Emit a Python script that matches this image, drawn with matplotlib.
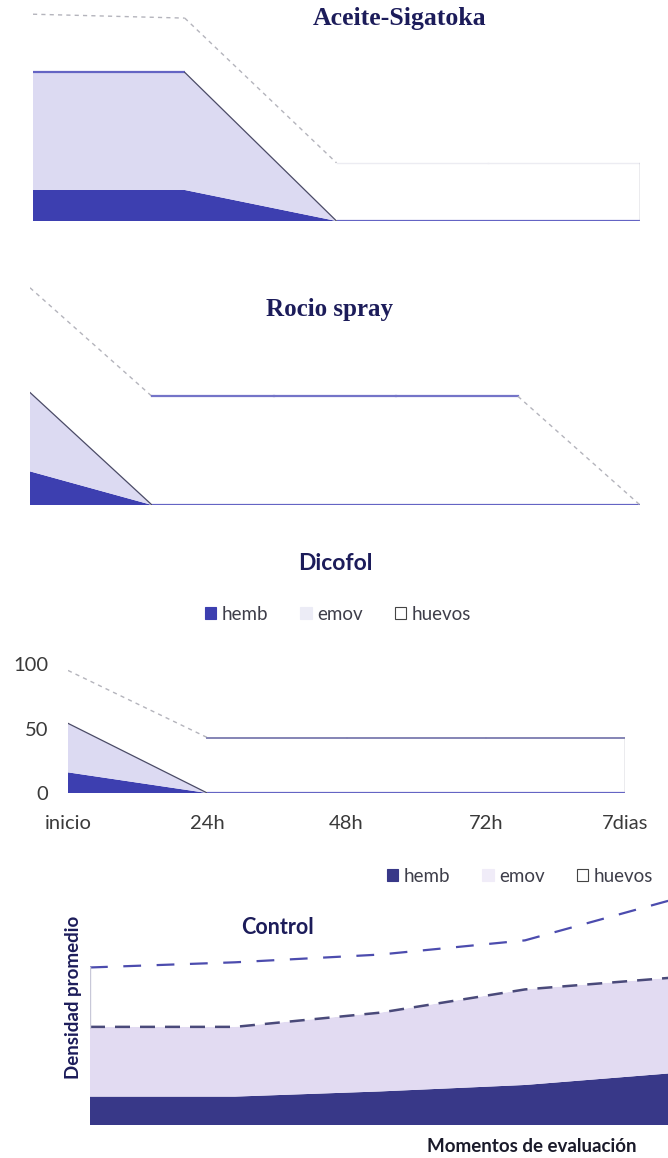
import matplotlib.pyplot as plt
from matplotlib.patches import Patch
import numpy as np

# densidad promedio por momento de evaluación
momentos = ["inicio", "24h", "48h", "72h", "7dias"]
momentos_rocio = ["inicio", "24h", "48h", "72h", "96h", "7dias"]

aceite_hemb = [24, 24, 0, 0, 0]
aceite_emov = [91, 91, 0, 0, 0]
aceite_huevos = [45, 42, 45, 45, 45]

rocio_hemb = [26, 0, 0, 0, 0, 0]
rocio_emov = [61, 0, 0, 0, 0, 0]
rocio_huevos = [81, 84, 84, 84, 84, 0]

dicofol_hemb = [16, 0, 0, 0, 0]
dicofol_emov = [38, 0, 0, 0, 0]
dicofol_huevos = [41, 43, 43, 43, 43]

control_hemb = [22, 22, 26, 31, 40]
control_emov = [54, 54, 61, 74, 74]
control_huevos = [46, 50, 45, 38, 60]

series = ["hemb", "emov", "huevos"]

AZUL = "#3d3fb0"
LILA = "#dcdaf2"
NAVY = "#1c1c5a"

W, H = 668, 1158
fig = plt.figure(figsize=(W / 100, H / 100), dpi=100)


def caja(x0, x1, ytop, ybase):
    return [x0 / W, 1 - ybase / H, (x1 - x0) / W, (ybase - ytop) / H]


def contorno(ax, x, y, plano, baja):
    # tramos planos en azul, tramos que cambian con otro trazo
    for i in range(len(x) - 1):
        estilo = plano if y[i] == y[i + 1] else baja
        if estilo:
            ax.plot(x[i:i + 2], y[i:i + 2], **estilo)


def panel(ax, hemb, emov, huevos, ymax, tope_plano, colores=(AZUL, LILA)):
    x = np.arange(len(hemb))
    ax.stackplot(x, hemb, emov, huevos, colors=[colores[0], colores[1], "white"],
                 linewidth=0)
    t_emov = np.array(hemb) + np.array(emov)
    t_huevos = t_emov + np.array(huevos)
    contorno(ax, x, t_emov,
             dict(color="#6464c4", lw=1.6, solid_capstyle="butt"),
             dict(color="#4a4a66", lw=0.9))
    contorno(ax, x, t_huevos, tope_plano,
             dict(color="#b4b4bc", lw=1.0, ls=(0, (3, 3))))
    if t_huevos[-1] > 0:
        ax.plot([x[-1], x[-1]], [0, t_huevos[-1]], color="#9a9aaa", lw=1.0)
    ax.set_xlim(0, len(x) - 1)
    ax.set_ylim(0, ymax)
    return x


def leyenda(cx, cy, colores):
    handles = [Patch(facecolor=c, edgecolor=e, lw=0.8)
               for c, e in zip(colores, [colores[0], colores[1], "#444444"])]
    fig.legend(handles, series, loc="center", bbox_to_anchor=(cx / W, 1 - cy / H),
               ncol=3, frameon=False, prop=dict(family="Lato", size=13.5),
               handlelength=0.6, handleheight=0.6, handletextpad=0.3,
               columnspacing=1.7, labelcolor="#3e3e4a")


# Aceite-Sigatoka
ax1 = fig.add_axes(caja(33, 640, 0, 221))
panel(ax1, aceite_hemb, aceite_emov, aceite_huevos, 171,
      dict(color="#ececf2", lw=1.0))
ax1.axis("off")
fig.text(400 / W, 1 - 18 / H, "Aceite-Sigatoka", ha="center", va="center",
         family="Liberation Serif", weight="bold", size=18.5, color=NAVY)

# Rocio spray
ax2 = fig.add_axes(caja(30, 640, 280, 505))
panel(ax2, rocio_hemb, rocio_emov, rocio_huevos, 174,
      dict(color="#7474c8", lw=1.6))
ax2.axis("off")
fig.text(329 / W, 1 - 309 / H, "Rocio spray", ha="center", va="center",
         family="Liberation Serif", weight="bold", size=18, color=NAVY)

# Dicofol
ax3 = fig.add_axes(caja(68, 625, 664, 793))
x3 = panel(ax3, dicofol_hemb, dicofol_emov, dicofol_huevos, 100,
           dict(color="#8484b4", lw=1.4))
for s in ax3.spines.values():
    s.set_visible(False)
ax3.set_yticks([0, 50, 100])
ax3.set_xticks(x3)
ax3.set_xticklabels(momentos)
ax3.tick_params(length=0, labelsize=14.5, labelcolor="#3a3a3a")
ax3.tick_params(axis="y", pad=14)
ax3.tick_params(axis="x", pad=16)
for lab in ax3.get_xticklabels() + ax3.get_yticklabels():
    lab.set_family("Lato")
fig.text(335 / W, 1 - 564 / H, "Dicofol", ha="center", va="center",
         family="Lato", weight="bold", size=16.5, color=NAVY)
leyenda(338, 614, [AZUL, "#ececf6", "white"])

# Control
CAZUL = "#383888"
CLILA = "#e2dbf2"
ax4 = fig.add_axes(caja(90, 670, 890, 1125))
x4 = np.arange(len(control_hemb))
ax4.stackplot(x4, control_hemb, control_emov, control_huevos,
              colors=[CAZUL, CLILA, "white"], linewidth=0)
t_emov = np.array(control_hemb) + np.array(control_emov)
t_huevos = t_emov + np.array(control_huevos)
ax4.plot(x4, t_emov, color="#4a4a7a", lw=1.8, ls=(0, (6, 4)))
ax4.plot(x4, t_huevos, color="#4c4cae", lw=1.6, ls=(0, (8, 7)))
ax4.plot([0, 0], [t_emov[0], t_huevos[0]], color="#c8c8d8", lw=1.0)
ax4.set_xlim(0, len(x4) - 1)
ax4.set_ylim(0, 182)
ax4.axis("off")
fig.text(277 / W, 1 - 928 / H, "Control", ha="center", va="center",
         family="Lato", weight="bold", size=15.5, color=NAVY)
fig.text(74 / W, 1 - 997 / H, "Densidad promedio", ha="center", va="center",
         rotation=90, family="Lato", weight="bold", size=13.5, color=NAVY)
fig.text(532 / W, 1 - 1146 / H, "Momentos de evaluación", ha="center", va="center",
         family="Lato", weight="bold", size=13.5, color="#1a1a2a")
leyenda(520, 876, [CAZUL, "#f0ecf8", "white"])

fig.savefig("out.png", dpi=100, facecolor="white")
